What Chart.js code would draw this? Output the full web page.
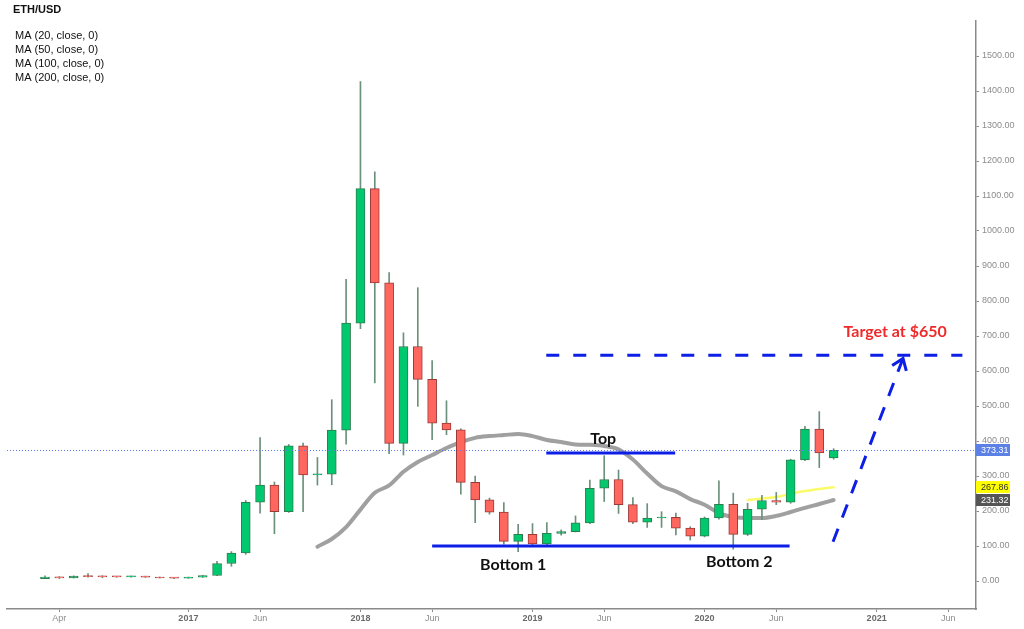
<!DOCTYPE html>
<html>
<head>
<meta charset="utf-8">
<script src="https://cdn.jsdelivr.net/npm/chart.js@4.4.0/dist/chart.umd.min.js"></script>
<style>
html,body{margin:0;padding:0;background:#ffffff;}
#wrap{width:1024px;height:629px;position:relative;}
</style>
</head>
<body>
<div id="wrap"><canvas id="c" width="1024" height="629"></canvas></div>
<script>
// ---- Data (month index: 0 = Jan 2016) ----
const candleMonths = [2,3,4,5,6,7,8,9,10,11,12,13,14,15,16,17,18,19,20,21,22,23,24,25,26,27,28,29,30,31,32,33,34,35,36,37,38,39,40,41,42,43,44,45,46,47,48,49,50,51,52,53,54,55,56,57];
const opens  = [7.0,11.4,8.8,14.0,12.5,12.0,11.7,13.1,11.0,8.7,8.0,10.7,15.8,50,80,225,274,198,386,303,305,431,737,1121,852,393,670,576,451,432,282,232,197,113,133,106,136,141,166,265,290,218,168,180,182,151,128,180,219,133,205,230,225,346,434,352];
const highs  = [15.0,12.3,14.6,21.5,14.9,12.5,14.0,14.0,11.5,9.0,11.2,16.0,56,84,230,410,283,390,394,353,518,862,1427,1169,881,709,838,630,515,435,300,237,224,162,164,167,146,186,288,358,317,238,221,198,194,155,183,286,251,222,245,253,348,442,484,378];
const lows   = [6.5,7.0,8.5,11.0,9.6,10.5,11.2,10.6,8.3,6.5,7.9,10.3,15.2,42,76,194,135,196,198,274,275,391,721,566,364,360,499,404,418,248,167,191,105,84,102,102,131,140,164,227,193,164,153,153,132,117,126,177,91,130,175,218,222,344,324,348];
const closes = [11.4,8.8,14.0,12.5,12.0,11.7,13.1,11.0,8.7,8.0,10.7,15.8,50,80,225,274,198,386,303,305,431,737,1121,852,393,670,576,451,432,282,232,197,113,133,106,136,141,166,265,290,218,168,180,182,151,128,180,219,133,205,230,225,346,434,366,373.31];

const maGreyMonths = [21,22,23,24,25,26,27,28,29,30,31,32,33,34,35,36,37,38,39,40,41,42,43,44,45,46,47,48,49,50,51,52,53,54,55,56,57];
const maGreyValues = [98,120,154,204,252,273,312,340,360,380,397,409,414,417,420,414,403,397,390,389,386,376,347,307,271,256,234,218,194,183,180,180,186,197,209,220,231.32];
const maYellowMonths = [51,52,53,54,55,56,57];
const maYellowValues = [231,236,240,249,257,263,267.86];

const xTickValues = [3,12,17,24,29,36,41,48,53,60,65];
const xTickLabels = ['Apr','2017','Jun','2018','Jun','2019','Jun','2020','Jun','2021','Jun'];
const yTickValues = [0,100,200,300,400,500,600,700,800,900,1000,1100,1200,1300,1400,1500];

const lastPrice = 373.31;
const axisBoxes = [
  {value: 373.31, text: '373.31', bg: '#5b80e6', fg: '#ffffff'},
  {value: 267.86, text: '267.86', bg: '#ffff00', fg: '#333333'},
  {value: 231.32, text: '231.32', bg: '#555555', fg: '#ffffff'}
];
const solidLevels = [
  {from: 36.96, to: 45.95, value: 366},   // Top
  {from: 29.0,  to: 53.93, value: 100}    // Bottom
];
const targetLevel = {from: 36.96, to: 65.98, value: 645};
const targetArrow = {x0: 56.96, y0: 112, x1: 61.84, y1: 636};
const textLabels = [
  {x: 40.93, y: 406, text: 'Top', color: '#111111'},
  {x: 34.65, y: 46, text: 'Bottom 1', color: '#111111'},
  {x: 50.42, y: 54, text: 'Bottom 2', color: '#111111'},
  {x: 61.29, y: 711, text: 'Target at $650', color: '#ee2a2a'}
];
const headerTitle = 'ETH/USD';
const headerLines = ['MA (20, close, 0)', 'MA (50, close, 0)', 'MA (100, close, 0)', 'MA (200, close, 0)'];

// ---- Build datasets ----
const isUp = closes.map((c, i) => c >= opens[i]);
const bodyData = candleMonths.map((m, i) => ({x: m, y: [opens[i], closes[i]]}));
const wickData = candleMonths.map((m, i) => ({x: m, y: [lows[i], highs[i]]}));

const UP_FILL = '#00c86e', UP_BORDER = '#2e7d4f';
const DN_FILL = '#ff665e', DN_BORDER = '#9a3a36';
const WICK = '#6b917c';

const annotPlugin = {
  id: 'annot',
  afterDatasetsDraw(chart) {
    const {ctx, chartArea: a, scales: {x, y}} = chart;
    ctx.save();
    ctx.beginPath();
    ctx.rect(a.left, a.top, a.right - a.left, a.bottom - a.top);
    ctx.clip();
    // dotted last price line
    const py = Math.round(y.getPixelForValue(lastPrice)) + 0.5;
    ctx.strokeStyle = '#5a7cf0';
    ctx.lineWidth = 1;
    ctx.setLineDash([1, 2]);
    ctx.beginPath(); ctx.moveTo(a.left, py); ctx.lineTo(a.right, py); ctx.stroke();
    ctx.setLineDash([]);
    // solid levels
    ctx.strokeStyle = '#0d1fe6';
    ctx.lineWidth = 3;
    solidLevels.forEach(l => {
      const yy = y.getPixelForValue(l.value);
      ctx.beginPath(); ctx.moveTo(x.getPixelForValue(l.from), yy); ctx.lineTo(x.getPixelForValue(l.to), yy); ctx.stroke();
    });
    // dashed target
    ctx.setLineDash([13, 14]);
    const ty = y.getPixelForValue(targetLevel.value);
    ctx.beginPath(); ctx.moveTo(x.getPixelForValue(targetLevel.from), ty); ctx.lineTo(x.getPixelForValue(targetLevel.to), ty); ctx.stroke();
    // dashed arrow
    const ax0 = x.getPixelForValue(targetArrow.x0), ay0 = y.getPixelForValue(targetArrow.y0);
    const ax1 = x.getPixelForValue(targetArrow.x1), ay1 = y.getPixelForValue(targetArrow.y1);
    ctx.setLineDash([14, 12]);
    ctx.beginPath(); ctx.moveTo(ax0, ay0); ctx.lineTo(ax1, ay1); ctx.stroke();
    ctx.setLineDash([]);
    const ang = Math.atan2(ay0 - ay1, ax0 - ax1);
    const L = 13, spread = 0.62;
    ctx.beginPath();
    ctx.moveTo(ax1 + L * Math.cos(ang - spread), ay1 + L * Math.sin(ang - spread));
    ctx.lineTo(ax1, ay1);
    ctx.lineTo(ax1 + L * Math.cos(ang + spread), ay1 + L * Math.sin(ang + spread));
    ctx.stroke();
    // text labels
    ctx.font = 'bold 16px Lato, "Liberation Sans", sans-serif';
    ctx.textAlign = 'center';
    ctx.textBaseline = 'middle';
    textLabels.forEach(t => {
      ctx.fillStyle = t.color;
      ctx.fillText(t.text, x.getPixelForValue(t.x), y.getPixelForValue(t.y));
    });
    ctx.restore();
  },
  afterDraw(chart) {
    const {ctx, chartArea: a, scales: {y}} = chart;
    ctx.save();
    ctx.font = '9px "Liberation Sans", Arial, sans-serif';
    ctx.textAlign = 'left';
    ctx.textBaseline = 'middle';
    axisBoxes.forEach(b => {
      const yy = y.getPixelForValue(b.value);
      ctx.fillStyle = b.bg;
      ctx.fillRect(a.right, Math.round(yy - 6), 34, 12);
      ctx.fillStyle = b.fg;
      ctx.fillText(b.text, a.right + 5, yy + 0.5);
    });
    ctx.fillStyle = '#111111';
    ctx.font = 'bold 11px "Liberation Sans", Arial, sans-serif';
    ctx.fillText(headerTitle, 13, 10);
    ctx.font = '11px "Liberation Sans", Arial, sans-serif';
    headerLines.forEach((t, i) => ctx.fillText(t, 15, 35.5 + i * 14.1));
    ctx.restore();
  }
};

const isYearTick = (v) => xTickLabels[xTickValues.indexOf(v)] && /^\d{4}$/.test(xTickLabels[xTickValues.indexOf(v)]);

new Chart(document.getElementById('c'), {
  type: 'bar',
  data: {
    datasets: [
      {
        type: 'line', order: 3, data: maGreyMonths.map((m, i) => ({x: m, y: maGreyValues[i]})),
        borderColor: '#a0a0a0', borderWidth: 4, pointRadius: 0, cubicInterpolationMode: 'monotone',
        borderCapStyle: 'round', borderJoinStyle: 'round', fill: false
      },
      {
        type: 'line', order: 3, data: maYellowMonths.map((m, i) => ({x: m, y: maYellowValues[i]})),
        borderColor: '#fbfb6a', borderWidth: 2.5, pointRadius: 0, cubicInterpolationMode: 'monotone',
        borderCapStyle: 'round', fill: false
      },
      {
        order: 2, data: wickData, grouped: false, barThickness: 1,
        backgroundColor: WICK, borderWidth: 0
      },
      {
        order: 1, data: bodyData, grouped: false, barThickness: 9, minBarLength: 1,
        backgroundColor: isUp.map(u => u ? UP_FILL : DN_FILL),
        borderColor: isUp.map(u => u ? UP_BORDER : DN_BORDER),
        borderWidth: 1, borderSkipped: false
      }
    ]
  },
  options: {
    responsive: false,
    animation: false,
    devicePixelRatio: 1,
    layout: {padding: {left: 7, top: 21, right: 0, bottom: 0}},
    plugins: {legend: {display: false}, tooltip: {enabled: false}},
    events: [],
    scales: {
      x: {
        type: 'linear', position: 'bottom', min: -0.65, max: 66.93, offset: false,
        grid: {display: true, drawOnChartArea: false, drawTicks: true, tickLength: 3, color: '#8a8a8a', offset: false},
        border: {display: true, color: '#8a8a8a', width: 1.5},
        afterBuildTicks: (s) => { s.ticks = xTickValues.map(v => ({value: v})); },
        afterFit: (s) => { s.height = 20; },
        ticks: {
          autoSkip: false, maxRotation: 0, minRotation: 0, padding: 1,
          callback: (v, i) => xTickLabels[i],
          font: (c) => ({family: '"Liberation Sans", Arial, sans-serif', size: 9, weight: (c.tick && isYearTick(c.tick.value)) ? 'bold' : 'normal'}),
          color: (c) => (c.tick && isYearTick(c.tick.value)) ? '#6a6a6a' : '#8c8c8c'
        }
      },
      y: {
        type: 'linear', position: 'right', min: -80, max: 1600,
        grid: {display: true, drawOnChartArea: false, drawTicks: true, tickLength: 3, color: '#8a8a8a'},
        border: {display: true, color: '#8a8a8a', width: 1.5},
        afterBuildTicks: (s) => { s.ticks = yTickValues.map(v => ({value: v})); },
        afterFit: (s) => { s.width = 48; },
        ticks: {
          padding: 3,
          callback: (v) => Number(v).toFixed(2),
          font: {family: '"Liberation Sans", Arial, sans-serif', size: 9},
          color: '#8c8c8c'
        }
      }
    }
  },
  plugins: [annotPlugin]
});
</script>
</body>
</html>
